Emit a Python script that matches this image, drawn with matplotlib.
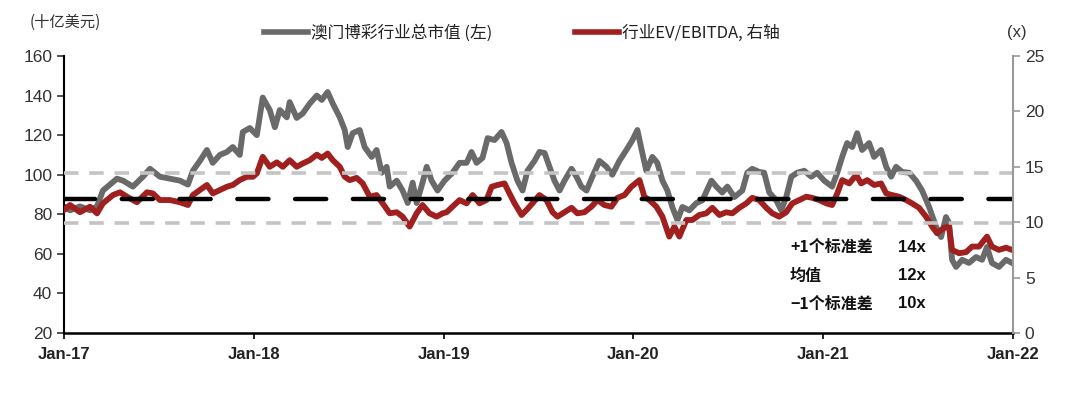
import matplotlib
matplotlib.use("Agg")
import matplotlib.pyplot as plt
from matplotlib.lines import Line2D

# DATA (decimal year, value)
mcap_t = [2017.000, 2017.032, 2017.084, 2017.137, 2017.174, 2017.205, 2017.242, 2017.279, 2017.311, 2017.363,
          2017.416, 2017.453, 2017.505, 2017.558, 2017.611, 2017.653, 2017.679, 2017.716, 2017.753, 2017.784,
          2017.821, 2017.858, 2017.889, 2017.926, 2017.942, 2017.979, 2018.016, 2018.047, 2018.084, 2018.111,
          2018.137, 2018.174, 2018.189, 2018.226, 2018.258, 2018.295, 2018.332, 2018.358, 2018.389, 2018.416,
          2018.453, 2018.479, 2018.495, 2018.521, 2018.558, 2018.584, 2018.621, 2018.647, 2018.674, 2018.700,
          2018.716, 2018.753, 2018.784, 2018.811, 2018.837, 2018.858, 2018.889, 2018.911, 2018.937, 2018.968,
          2019.005, 2019.047, 2019.084, 2019.121, 2019.147, 2019.174, 2019.205, 2019.232, 2019.268, 2019.305,
          2019.332, 2019.358, 2019.389, 2019.416, 2019.442, 2019.479, 2019.505, 2019.532, 2019.558, 2019.584,
          2019.611, 2019.637, 2019.674, 2019.700, 2019.726, 2019.753, 2019.784, 2019.821, 2019.858, 2019.889,
          2019.926, 2019.963, 2019.995, 2020.021, 2020.047, 2020.068, 2020.100, 2020.126, 2020.153, 2020.179,
          2020.205, 2020.232, 2020.258, 2020.295, 2020.332, 2020.363, 2020.411, 2020.437, 2020.468, 2020.495,
          2020.532, 2020.574, 2020.600, 2020.626, 2020.663, 2020.689, 2020.716, 2020.753, 2020.779, 2020.805,
          2020.832, 2020.863, 2020.900, 2020.937, 2020.968, 2021.005, 2021.047, 2021.074, 2021.100, 2021.126,
          2021.153, 2021.179, 2021.205, 2021.242, 2021.268, 2021.305, 2021.332, 2021.358, 2021.384, 2021.416,
          2021.453, 2021.489, 2021.521, 2021.558, 2021.595, 2021.621, 2021.647, 2021.663, 2021.679, 2021.700,
          2021.732, 2021.768, 2021.805, 2021.837, 2021.863, 2021.889, 2021.926, 2021.963, 2021.995]
mcap_v = [84, 82, 84, 82, 84, 92, 95, 98, 97, 94,
          99, 103, 99, 98, 97, 95, 102, 107, 112.5, 106,
          110, 111.5, 114, 110, 121.6, 123.6, 120, 139, 132.7, 124,
          132.7, 129, 136.7, 128.7, 131, 136, 140, 137.8, 141.8, 136,
          129, 122.6, 114, 121, 122.6, 114, 109, 112.5, 101, 104,
          94, 97, 92, 85.7, 96, 85.7, 96, 104, 97, 92,
          97, 101, 106, 106, 111.5, 106, 108.5, 118.5, 117.5, 121.6,
          116, 106, 97, 92, 102, 107, 111.5, 111, 104, 97,
          92, 97, 103, 99, 94, 92, 99, 107, 104, 100,
          107, 112.5, 117.5, 122.6, 111, 102, 109, 106, 97, 92,
          83.7, 77, 83.7, 82, 85.7, 87, 97, 94, 91, 94,
          88.7, 92, 101, 103, 101.4, 101, 91, 87, 82, 88.7,
          99, 101, 102, 99, 101, 97, 94, 101, 109, 116,
          114, 121, 112.5, 116, 109, 112.5, 104, 99, 104, 101.4,
          101, 97, 92, 83.7, 73.6, 68.5, 78.6, 75.6, 57, 53.4,
          57, 55.4, 58.4, 57, 63.5, 55.4, 53.4, 57, 55.4]

ev_t = [2017.000, 2017.032, 2017.084, 2017.137, 2017.174, 2017.205, 2017.258, 2017.295, 2017.332, 2017.384,
        2017.437, 2017.468, 2017.505, 2017.558, 2017.611, 2017.653, 2017.679, 2017.716, 2017.753, 2017.784,
        2017.821, 2017.858, 2017.889, 2017.926, 2017.963, 2017.995, 2018.016, 2018.047, 2018.084, 2018.121,
        2018.153, 2018.189, 2018.226, 2018.258, 2018.295, 2018.332, 2018.358, 2018.389, 2018.416, 2018.453,
        2018.479, 2018.505, 2018.542, 2018.574, 2018.611, 2018.647, 2018.679, 2018.716, 2018.753, 2018.784,
        2018.821, 2018.858, 2018.889, 2018.926, 2018.963, 2018.995, 2019.016, 2019.047, 2019.084, 2019.121,
        2019.153, 2019.189, 2019.226, 2019.253, 2019.284, 2019.321, 2019.347, 2019.374, 2019.411, 2019.437,
        2019.468, 2019.505, 2019.542, 2019.574, 2019.600, 2019.637, 2019.674, 2019.705, 2019.742, 2019.779,
        2019.811, 2019.847, 2019.884, 2019.916, 2019.953, 2019.989, 2020.032, 2020.058, 2020.084, 2020.121,
        2020.153, 2020.189, 2020.216, 2020.242, 2020.279, 2020.311, 2020.347, 2020.384, 2020.416, 2020.453,
        2020.489, 2020.521, 2020.558, 2020.595, 2020.626, 2020.663, 2020.700, 2020.732, 2020.768, 2020.805,
        2020.837, 2020.874, 2020.911, 2020.942, 2020.979, 2021.016, 2021.047, 2021.074, 2021.100, 2021.137,
        2021.174, 2021.200, 2021.232, 2021.268, 2021.305, 2021.332, 2021.363, 2021.400, 2021.437, 2021.468,
        2021.505, 2021.542, 2021.574, 2021.600, 2021.637, 2021.663, 2021.679, 2021.716, 2021.753, 2021.784,
        2021.821, 2021.863, 2021.889, 2021.926, 2021.963, 2021.995]
ev_v = [11.1, 11.55, 10.9, 11.4, 10.8, 11.7, 12.45, 12.7, 12.3, 11.8,
        12.7, 12.6, 12.0, 12.0, 11.8, 11.55, 12.45, 12.9, 13.36, 12.6,
        12.9, 13.2, 13.36, 13.8, 14.1, 14.1, 14.4, 15.9, 15.0, 15.4,
        15.0, 15.6, 15.0, 15.3, 15.6, 16.1, 15.8, 16.2, 15.6, 15.0,
        14.1, 13.8, 14.0, 13.5, 12.3, 12.45, 11.7, 10.8, 10.9, 10.5,
        9.6, 10.8, 11.55, 10.8, 10.5, 10.8, 10.9, 11.4, 12.0, 11.7,
        12.45, 11.7, 12.0, 13.2, 13.36, 13.5, 12.6, 11.7, 10.65, 11.1,
        11.7, 12.45, 12.0, 10.9, 10.5, 10.9, 11.3, 10.8, 10.9, 11.4,
        12.0, 11.55, 11.4, 12.2, 12.45, 13.2, 13.8, 12.3, 12.0, 11.4,
        10.5, 8.7, 9.6, 8.7, 10.2, 10.2, 10.65, 10.8, 11.3, 10.65,
        10.9, 10.8, 11.3, 11.7, 12.2, 12.0, 11.3, 10.8, 10.5, 10.9,
        11.7, 12.0, 12.3, 12.2, 12.0, 11.7, 11.55, 12.6, 13.8, 13.5,
        14.25, 13.5, 13.8, 13.36, 13.5, 12.6, 12.45, 12.3, 12.0, 11.7,
        11.3, 10.5, 9.6, 9.0, 9.5, 9.6, 7.5, 7.2, 7.3, 7.8,
        7.8, 8.7, 7.8, 7.5, 7.7, 7.5]

band_mean = 12.1
band_up = 14.4
band_dn = 9.9

year_ticks = [2017, 2018, 2019, 2020, 2021, 2022]
year_labels = ["Jan-17", "Jan-18", "Jan-19", "Jan-20", "Jan-21", "Jan-22"]

GREY = "#6a6a6a"
RED = "#a01f1f"
LIGHT = "#c4c4c4"

plt.rcParams["font.family"] = ["Liberation Sans", "Noto Sans CJK SC", "DejaVu Sans"]
cjk = ["Noto Sans CJK SC", "Liberation Sans", "DejaVu Sans"]

fig = plt.figure(figsize=(10.8, 3.97), dpi=100)
ax = fig.add_axes([64 / 1080, 1 - 333 / 397, 949 / 1080, 277 / 397])
ax2 = ax.twinx()

ax.plot(mcap_t, mcap_v, color=GREY, lw=4.2, solid_joinstyle="round")
ax2.plot(ev_t, ev_v, color=RED, lw=4.2, solid_joinstyle="round")

ax2.axhline(band_up, color=LIGHT, lw=2.6, dashes=(4, 3))
ax2.axhline(band_dn, color=LIGHT, lw=2.6, dashes=(4, 3))
ax2.axhline(band_mean, color="black", lw=3.2, dashes=(7, 6), dash_capstyle="round")

ax.set_xlim(2017, 2022)
ax.set_ylim(20, 160)
ax.set_yticks(range(20, 161, 20))
ax2.set_ylim(0, 25)
ax2.set_yticks(range(0, 26, 5))

ax.set_xticks(year_ticks)
ax.set_xticklabels(year_labels, fontweight="bold", fontsize=12, color="#222222")
ax.tick_params(axis="x", length=4, width=1.2, pad=6)
ax.tick_params(axis="y", length=5, width=1.2, labelsize=12.5, colors="#333333")
ax2.tick_params(axis="y", length=5, width=1.2, labelsize=12.5, colors="#999999", labelcolor="#333333")

ax.spines["top"].set_visible(False)
ax2.spines["top"].set_visible(False)
ax.spines["left"].set_linewidth(1.5)
ax.spines["bottom"].set_linewidth(1.8)
ax2.spines["left"].set_visible(False)
ax2.spines["bottom"].set_visible(False)
ax2.spines["right"].set_color("#999999")
ax2.spines["right"].set_linewidth(1.5)
ax.spines["right"].set_visible(False)

fig.text(30 / 1080, 1 - 22 / 397, "(十亿美元)", family=cjk, fontsize=11, color="#333333", va="center")
fig.text(1017 / 1080, 1 - 33 / 397, "(x)", fontsize=12, color="#333333", va="center", ha="center")

# legend
handles = [Line2D([], [], color=GREY, lw=4), Line2D([], [], color=RED, lw=4)]
leg = fig.legend(handles, ["澳门博彩行业总市值 (左)", "行业EV/EBITDA, 右轴"], loc="center",
                 bbox_to_anchor=(522 / 1080, 1 - 33 / 397), ncol=2, frameon=False,
                 prop={"family": cjk, "size": 12}, handlelength=2.6, handletextpad=0.2,
                 columnspacing=5.0)
for t in leg.get_texts():
    t.set_color("#222222")

# band annotation
rows = [("+1个标准差", "14x", 0.31), ("均值", "12x", 0.206), ("−1个标准差", "10x", 0.105)]
for lab, val, yy in rows:
    ax.text(0.765, yy, lab, transform=ax.transAxes, family=cjk, fontsize=11.5,
            fontweight="bold", va="center", color="#111111")
    ax.text(0.879, yy, val, transform=ax.transAxes, fontsize=12,
            fontweight="bold", va="center", color="#111111")

fig.savefig("out.png", dpi=100)
